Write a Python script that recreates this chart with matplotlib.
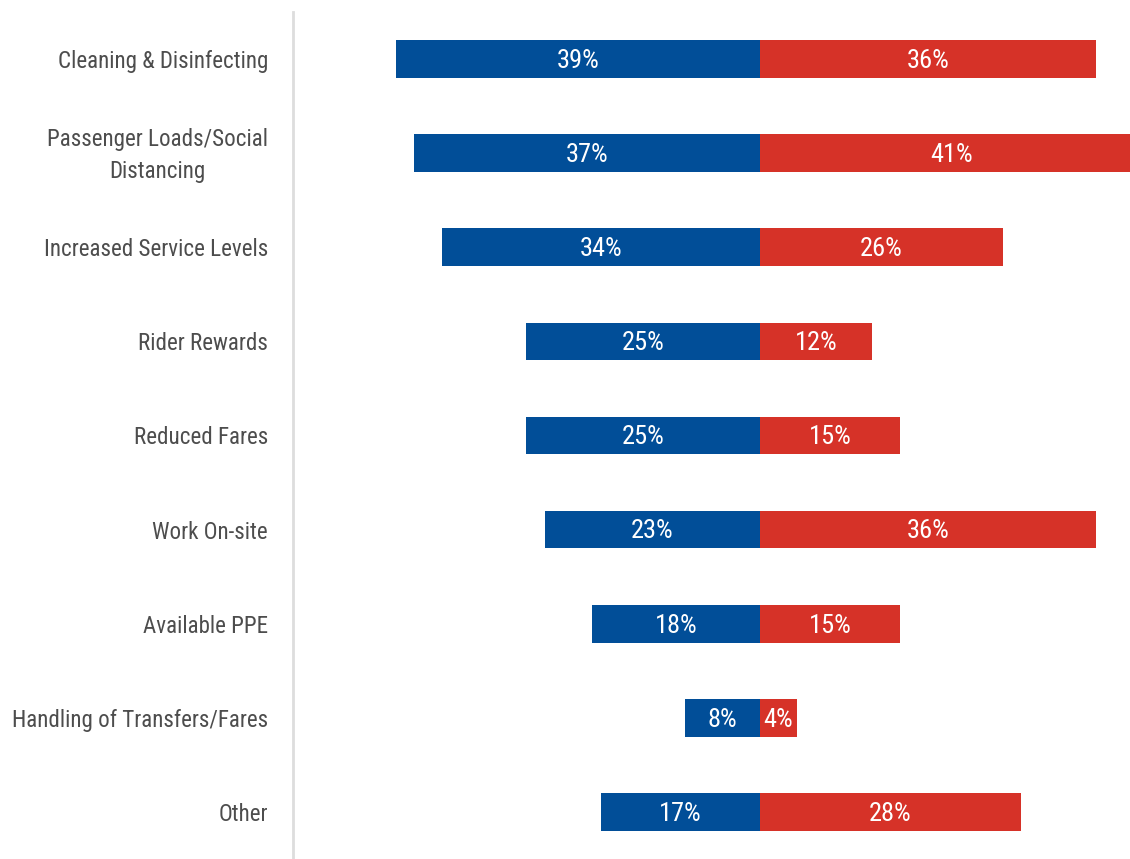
import matplotlib
matplotlib.use("Agg")
import matplotlib.pyplot as plt
from matplotlib import font_manager
from matplotlib.transforms import ScaledTranslation

categories = [
    "Cleaning & Disinfecting",
    "Passenger Loads/Social\nDistancing",
    "Increased Service Levels",
    "Rider Rewards",
    "Reduced Fares",
    "Work On-site",
    "Available PPE",
    "Handling of Transfers/Fares",
    "Other",
]
left_values = [39, 37, 34, 25, 25, 23, 18, 8, 17]
right_values = [36, 41, 26, 12, 15, 36, 15, 4, 28]

BLUE = "#014e98"
RED = "#d63228"
LABEL_GRAY = "#4d4d4d"


def _is_narrow(entry):
    s = entry.stretch
    if isinstance(s, str):
        return "condensed" in s or "narrow" in entry.name.lower()
    return s < 100


# pick the narrowest-looking sans face that is installed
preferred = ["Roboto Condensed", "Open Sans Condensed", "Noto Sans",
             "Liberation Sans Narrow", "Open Sans", "Roboto", "DejaVu Sans"]
family, stretch = "DejaVu Sans", "condensed"
entries = font_manager.fontManager.ttflist
done = False
for fam in preferred:
    for e in entries:
        if e.name == fam and (_is_narrow(e) or "Condensed" in fam or "Narrow" in fam) \
                and e.weight in (400, "normal", "regular") and e.style == "normal":
            family, stretch = fam, e.stretch
            done = True
            break
    if done:
        break

fig = plt.figure(figsize=(11.3, 8.59), dpi=100)
ax = fig.add_axes([293 / 1130, 0, 1 - 293 / 1130, 1 - 12 / 859])

# size the category labels so the longest single line spans about 257 px
renderer = fig.canvas.get_renderer()
probe = fig.text(0, 0, "Handling of Transfers/Fares", fontsize=18,
                 family=family, fontstretch=stretch)
w = probe.get_window_extent(renderer).width
probe.remove()
label_size = min(19.0, 18 * 257 / w)
value_size = label_size * 1.15

y = list(range(len(categories)))
ax.barh(y, [-v for v in left_values], height=0.4, color=BLUE)
ax.barh(y, right_values, height=0.4, color=RED)

for yi, lv, rv in zip(y, left_values, right_values):
    ax.text(-lv / 2, yi + 0.02, f"{lv}%", ha="center", va="center",
            color="white", fontsize=value_size, family=family,
            fontstretch=stretch)
    ax.text(rv / 2, yi + 0.02, f"{rv}%", ha="center", va="center",
            color="white", fontsize=value_size, family=family,
            fontstretch=stretch)

ax.set_xlim(-50, 39.65)
ax.set_ylim(len(categories) - 0.5, -0.5)
ax.set_yticks(y)
ax.set_yticklabels(categories, fontsize=label_size, color=LABEL_GRAY,
                   family=family, fontstretch=stretch, ha="right",
                   va="center", multialignment="center", linespacing=1.5)
ax.tick_params(axis="y", length=0, pad=18)
shift = ScaledTranslation(0, -2.5 / 100, fig.dpi_scale_trans)
for lab in ax.get_yticklabels():
    lab.set_transform(lab.get_transform() + shift)
ax.set_xticks([])
for side in ("top", "right", "bottom"):
    ax.spines[side].set_visible(False)
ax.spines["left"].set_color("#dddddd")
ax.spines["left"].set_linewidth(2)

fig.savefig("out.png", dpi=100)
